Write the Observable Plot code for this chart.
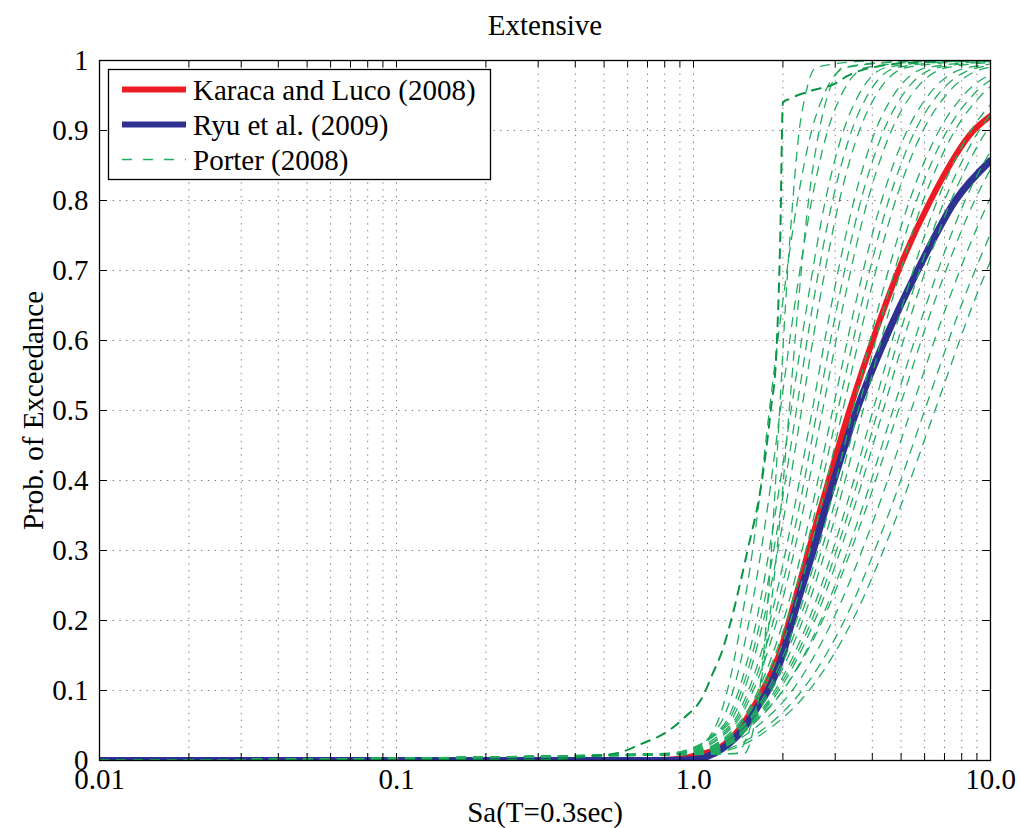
<!DOCTYPE html>
<html>
<head>
<meta charset="utf-8">
<script src="https://cdn.jsdelivr.net/npm/d3@7"></script>
<script src="https://cdn.jsdelivr.net/npm/@observablehq/plot@0.6"></script>
<style>
  html, body { margin: 0; padding: 0; background: #fff; }
  #chart { width: 1021px; height: 828px; }
</style>
</head>
<body>
<div id="chart"></div>
<script>
// ---------------- Text ----------------
const chartTitle = "Extensive";
const xLabel = "Sa(T=0.3sec)";
const yLabel = "Prob. of Exceedance";
const legendLabels = ["Karaca and Luco (2008)", "Ryu et al. (2009)", "Porter (2008)"];

// ---------------- Ticks ----------------
const xTickValues = [0.01, 0.1, 1, 10];
const xTickLabels = ["0.01", "0.1", "1.0", "10.0"];
const xMinorValues = [0.01,0.02,0.03,0.04,0.05,0.06,0.07,0.08,0.09,
                      0.1,0.2,0.3,0.4,0.5,0.6,0.7,0.8,0.9,
                      1,2,3,4,5,6,7,8,9,10];
const yTickValues = [0,0.1,0.2,0.3,0.4,0.5,0.6,0.7,0.8,0.9,1];
const yTickLabels = ["0","0.1","0.2","0.3","0.4","0.5","0.6","0.7","0.8","0.9","1"];

// ---------------- Karaca and Luco (2008) ----------------
const karacaX = [0.01, 0.6, 0.85, 0.95, 1.056, 1.233, 1.439, 1.592, 1.775, 1.963, 2.1, 2.44, 2.85, 3.35, 4.01, 4.90, 6.28, 8.77, 10];
const karacaP = [0, 0, 0.0015, 0.004, 0.009, 0.019, 0.047, 0.076, 0.114, 0.157, 0.2, 0.3, 0.4, 0.5, 0.6, 0.7, 0.8, 0.9, 0.921];

// ---------------- Ryu et al. (2009) ----------------
const ryuX = [0.01, 0.8, 0.98, 1.1, 1.25, 1.47, 1.63, 1.83, 2.0, 2.15, 2.53, 2.97, 3.54, 4.40, 5.68, 7.62, 10];
const ryuP = [0, 0, 0.001, 0.005, 0.017, 0.045, 0.074, 0.11, 0.152, 0.2, 0.3, 0.4, 0.5, 0.6, 0.7, 0.8, 0.857];

// ---------------- Porter (2008) ----------------
// steepest (left-most) curve, read point by point
const porterSteepX = [0.01, 0.3, 0.47, 0.56, 0.67, 0.8, 0.93, 1.07, 1.16, 1.25, 1.33, 1.52, 1.7, 1.82, 1.9, 1.96, 2.0, 2.1, 2.5, 3.0, 3.3, 4.0, 6.0, 10];
const porterSteepP = [0, 0.001, 0.007, 0.011, 0.024, 0.039, 0.061, 0.09, 0.124, 0.157, 0.196, 0.30, 0.40, 0.50, 0.58, 0.75, 0.94, 0.945, 0.957, 0.967, 0.978, 0.99, 0.998, 1];
// other curves: Sa where each curve crosses these probability levels
const porterLevels = [0.01, 0.05, 0.1, 0.2, 0.35, 0.5, 0.65, 0.8, 0.9, 0.95, 0.99, 1];
const porterCurvesX = [
  [1.48, 1.60, 1.67, 1.76, 1.86, 1.95, 2.04, 2.16, 2.27, 2.38, 2.58, 4.0],
  [1.38, 1.56, 1.67, 1.80, 1.96, 2.10, 2.25, 2.44, 2.65, 2.83, 3.19, 5.5],
  [0.95, 1.19, 1.30, 1.45, 1.64, 1.80, 1.99, 2.24, 2.50, 2.74, 3.26, 6.0],
  [0.90, 1.22, 1.36, 1.54, 1.76, 1.96, 2.19, 2.50, 2.83, 3.14, 3.82, 7.0],
  [0.85, 1.26, 1.42, 1.63, 1.88, 2.13, 2.41, 2.78, 3.20, 3.59, 4.46, 8.0],
  [0.83, 1.28, 1.45, 1.68, 1.95, 2.22, 2.52, 2.94, 3.41, 3.85, 4.84, 8.7],
  [0.80, 1.30, 1.48, 1.72, 2.02, 2.31, 2.64, 3.10, 3.62, 4.11, 5.22, 9.5],
  [0.85, 1.33, 1.53, 1.81, 2.16, 2.51, 2.91, 3.47, 4.10, 4.71, 6.12, 11],
  [0.88, 1.35, 1.56, 1.86, 2.24, 2.61, 3.05, 3.66, 4.37, 5.05, 6.64, 12],
  [0.90, 1.37, 1.59, 1.91, 2.32, 2.72, 3.19, 3.86, 4.64, 5.40, 7.17, 13],
  [0.95, 1.40, 1.65, 2.01, 2.47, 2.94, 3.50, 4.30, 5.24, 6.17, 8.39, 15],
  [0.98, 1.42, 1.68, 2.06, 2.55, 3.06, 3.67, 4.54, 5.58, 6.62, 9.10, 16],
  [1.00, 1.43, 1.71, 2.12, 2.64, 3.18, 3.84, 4.79, 5.93, 7.07, 9.84, 18],
  [0.90, 1.46, 1.77, 2.22, 2.82, 3.44, 4.21, 5.34, 6.71, 8.10, 11.5],
  [0.92, 1.47, 1.80, 2.27, 2.91, 3.58, 4.41, 5.64, 7.15, 8.70, 12.5],
  [0.95, 1.49, 1.83, 2.33, 3.01, 3.72, 4.61, 5.94, 7.59, 9.29, 13.6],
  [1.00, 1.52, 1.88, 2.44, 3.20, 4.02, 5.05, 6.62, 8.59, 10.7],
  [1.02, 1.53, 1.91, 2.50, 3.30, 4.18, 5.29, 7.00, 9.15, 11.4],
  [1.05, 1.55, 1.94, 2.56, 3.41, 4.35, 5.53, 7.37, 9.72, 12.2],
  [1.10, 1.57, 2.00, 2.68, 3.63, 4.69, 6.06, 8.21, 11.0],
  [0.96, 1.55, 2.00, 2.72, 3.74, 4.90, 6.41, 8.84, 12.0],
  [1.01, 1.65, 2.15, 2.94, 4.09, 5.40, 7.12, 9.90, 13.6],
  [1.07, 1.78, 2.32, 3.22, 4.52, 6.00, 7.97, 11.2],
  [1.11, 1.86, 2.45, 3.43, 4.85, 6.50, 8.70, 12.3]
];

// ---------------- Colours ----------------
const redColor = "#ed1c24";
const blueColor = "#2e3192";
const greenColor = "#22ad60";
const darkGreen = "#0a9444";

// ---------------- Build tables ----------------
const karacaRows = karacaX.map((x, i) => ({x, p: karacaP[i]}));
const ryuRows = ryuX.map((x, i) => ({x, p: ryuP[i]}));
const steepRows = porterSteepX.map((x, i) => ({x, p: porterSteepP[i]}));
const porterRows = [];
porterCurvesX.forEach((xs, id) => {
  porterRows.push({id, x: 0.01, p: 0});
  xs.forEach((x, j) => porterRows.push({id, x, p: porterLevels[j]}));
});

// ---------------- Layout ----------------
const W = 1021, H = 828;
const ML = 99, MR = 31, MT = 60, MB = 68;
const FW = W - ML - MR, FH = H - MT - MB;
const font = "Liberation Serif, Tinos, Times New Roman, DejaVu Serif, serif";
const fs = 29;

const plot = Plot.plot({
  width: W, height: H,
  marginLeft: ML, marginRight: MR, marginTop: MT, marginBottom: MB,
  style: {fontFamily: font, fontSize: fs + "px", color: "#000", background: "#fff", overflow: "visible"},
  x: {type: "log", domain: [0.01, 10]},
  y: {domain: [0, 1]},
  marks: [
    Plot.gridX(xMinorValues.filter(d => d > 0.01 && d < 10), {stroke: "#777", strokeOpacity: 1, strokeWidth: 1, strokeDasharray: "1.3,5.5"}),
    Plot.gridY(yTickValues.filter(d => d > 0 && d < 1), {stroke: "#777", strokeOpacity: 1, strokeWidth: 1, strokeDasharray: "1.3,5.5"}),
    Plot.line(karacaRows, {x: "x", y: "p", stroke: redColor, strokeWidth: 6, curve: "monotone-x", clip: true}),
    Plot.line(ryuRows, {x: "x", y: "p", stroke: blueColor, strokeWidth: 7, curve: "monotone-x", clip: true}),
    Plot.line(porterRows, {x: "x", y: "p", z: "id", stroke: greenColor, strokeWidth: 1.3, strokeDasharray: "9,8", curve: "monotone-x", clip: true}),
    Plot.line(steepRows, {x: "x", y: "p", stroke: darkGreen, strokeWidth: 2, strokeDasharray: "9,8", curve: "monotone-x", clip: true}),
    Plot.frame({stroke: "#000", strokeWidth: 1.3}),
    Plot.tickX(xMinorValues, {x: d => d, insetTop: FH - 7, stroke: "#000", strokeWidth: 1}),
    Plot.tickX(xMinorValues, {x: d => d, insetBottom: FH - 7, stroke: "#000", strokeWidth: 1}),
    Plot.tickY(yTickValues, {y: d => d, insetRight: FW - 8, stroke: "#000", strokeWidth: 1}),
    Plot.tickY(yTickValues, {y: d => d, insetLeft: FW - 8, stroke: "#000", strokeWidth: 1}),
    Plot.axisX(xTickValues, {tickSize: 0, tickPadding: 8, fontSize: fs, label: null, fontFamily: font,
      tickFormat: d => xTickLabels[xTickValues.indexOf(d)]}),
    Plot.axisY(yTickValues, {tickSize: 0, tickPadding: 11, fontSize: fs, label: null, fontFamily: font,
      tickFormat: d => yTickLabels[yTickValues.indexOf(d)]}),
    Plot.text([chartTitle], {text: d => d, frameAnchor: "top", lineAnchor: "middle", textAnchor: "middle", dy: -35, fontSize: fs, fontFamily: font, fill: "#000"}),
    Plot.text([xLabel], {text: d => d, frameAnchor: "bottom", lineAnchor: "middle", textAnchor: "middle", dy: 52, fontSize: fs, fontFamily: font, fill: "#000"}),
    Plot.text([yLabel], {text: d => d, frameAnchor: "left", lineAnchor: "middle", textAnchor: "middle", dx: -66, rotate: -90, fontSize: fs, fontFamily: font, fill: "#000"})
  ]
});

// ---------------- Legend (drawn inside the SVG) ----------------
const svg = d3.select(plot);
const lg = svg.append("g").attr("class", "legend").attr("text-anchor", "start");
lg.append("rect").attr("x", 108.5).attr("y", 69.5).attr("width", 382).attr("height", 110)
  .attr("fill", "#fff").attr("stroke", "#000").attr("stroke-width", 1.3);
const legendStyles = [
  {stroke: redColor, width: 6, dash: null},
  {stroke: blueColor, width: 6, dash: null},
  {stroke: greenColor, width: 1.3, dash: "10,11"}
];
legendLabels.forEach((label, i) => {
  const y = 89.5 + 35 * i;
  const ln = lg.append("line").attr("x1", 122).attr("x2", 186).attr("y1", y).attr("y2", y)
    .attr("stroke", legendStyles[i].stroke).attr("stroke-width", legendStyles[i].width);
  if (legendStyles[i].dash) ln.attr("stroke-dasharray", legendStyles[i].dash);
  lg.append("text").attr("x", 193).attr("y", y).attr("dy", "0.35em").attr("text-anchor", "start")
    .style("font-family", font).style("font-size", fs + "px").attr("fill", "#000").text(label);
});

document.getElementById("chart").appendChild(plot);
</script>
</body>
</html>
